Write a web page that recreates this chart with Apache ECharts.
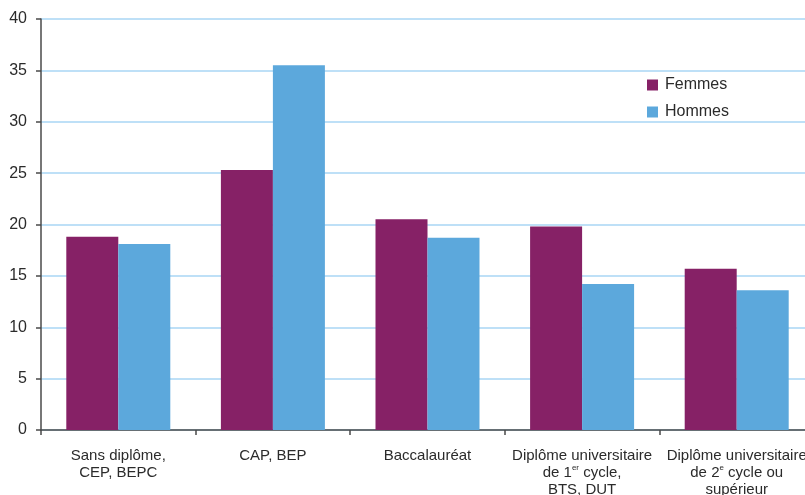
<!DOCTYPE html>
<html>
<head>
<meta charset="utf-8">
<script src="https://cdn.jsdelivr.net/npm/echarts@6/dist/echarts.min.js"></script>
<style>
html,body{margin:0;padding:0;background:#fff;overflow:hidden;}
#chart{width:823px;height:495px;}
</style>
</head>
<body>
<div id="chart"></div>
<script>
const categories = [
  "Sans diplôme,\nCEP, BEPC",
  "CAP, BEP",
  "Baccalauréat",
  "Diplôme universitaire\nde 1{sup|er} cycle,\nBTS, DUT",
  "Diplôme universitaire\nde 2{sup|e} cycle ou\nsupérieur"
];
const femmes = [18.8, 25.3, 20.5, 19.8, 15.7];
const hommes = [18.1, 35.5, 18.7, 14.2, 13.6];
const yTicks = { min: 0, max: 40, interval: 5 };

const FONT = "'Liberation Sans', Arial, sans-serif";
const TXT = '#2b2b2b';

const chart = echarts.init(document.getElementById('chart'), null, { renderer: 'canvas' });
chart.setOption({
  animation: false,
  backgroundColor: '#ffffff',
  grid: { left: 41, right: 9, top: 19, bottom: 65, containLabel: false, outerBoundsMode: 'none' },
  legend: {
    orient: 'vertical',
    left: 647,
    top: 76,
    padding: 0,
    icon: 'rect',
    itemWidth: 11,
    itemHeight: 11,
    itemGap: 9,
    textStyle: { fontFamily: FONT, fontSize: 16, color: TXT, lineHeight: 18, padding: [0, 0, 0, 2] },
    data: ['Femmes', 'Hommes']
  },
  xAxis: {
    type: 'category',
    data: categories,
    axisLine: { show: true, lineStyle: { color: '#4a4a4a', width: 1.5 } },
    axisTick: { show: true, alignWithLabel: false, length: 5, lineStyle: { color: '#4a4a4a', width: 1.5 } },
    axisLabel: {
      interval: 0,
      margin: 17,
      fontFamily: FONT,
      fontSize: 15,
      lineHeight: 17,
      color: TXT,
      align: 'center',
      rich: {
        sup: { fontFamily: FONT, fontSize: 8, lineHeight: 8, verticalAlign: 'top', color: TXT }
      }
    },
    splitLine: { show: false }
  },
  yAxis: {
    type: 'value',
    min: yTicks.min,
    max: yTicks.max,
    interval: yTicks.interval,
    axisLine: { show: true, lineStyle: { color: '#4a4a4a', width: 1.5 } },
    axisTick: { show: true, inside: false, length: 5, lineStyle: { color: '#4a4a4a', width: 1.5 } },
    axisLabel: { fontFamily: FONT, fontSize: 16, color: TXT, margin: 14 },
    splitLine: { show: true, lineStyle: { color: '#a8d6f4', width: 1.5 } }
  },
  series: [
    {
      name: 'Femmes', type: 'bar', data: femmes,
      barWidth: 52, barGap: '0%',
      itemStyle: { color: '#862166' }
    },
    {
      name: 'Hommes', type: 'bar', data: hommes,
      barWidth: 52, barGap: '0%',
      itemStyle: { color: '#5ca8dc' }
    }
  ]
});
</script>
</body>
</html>
